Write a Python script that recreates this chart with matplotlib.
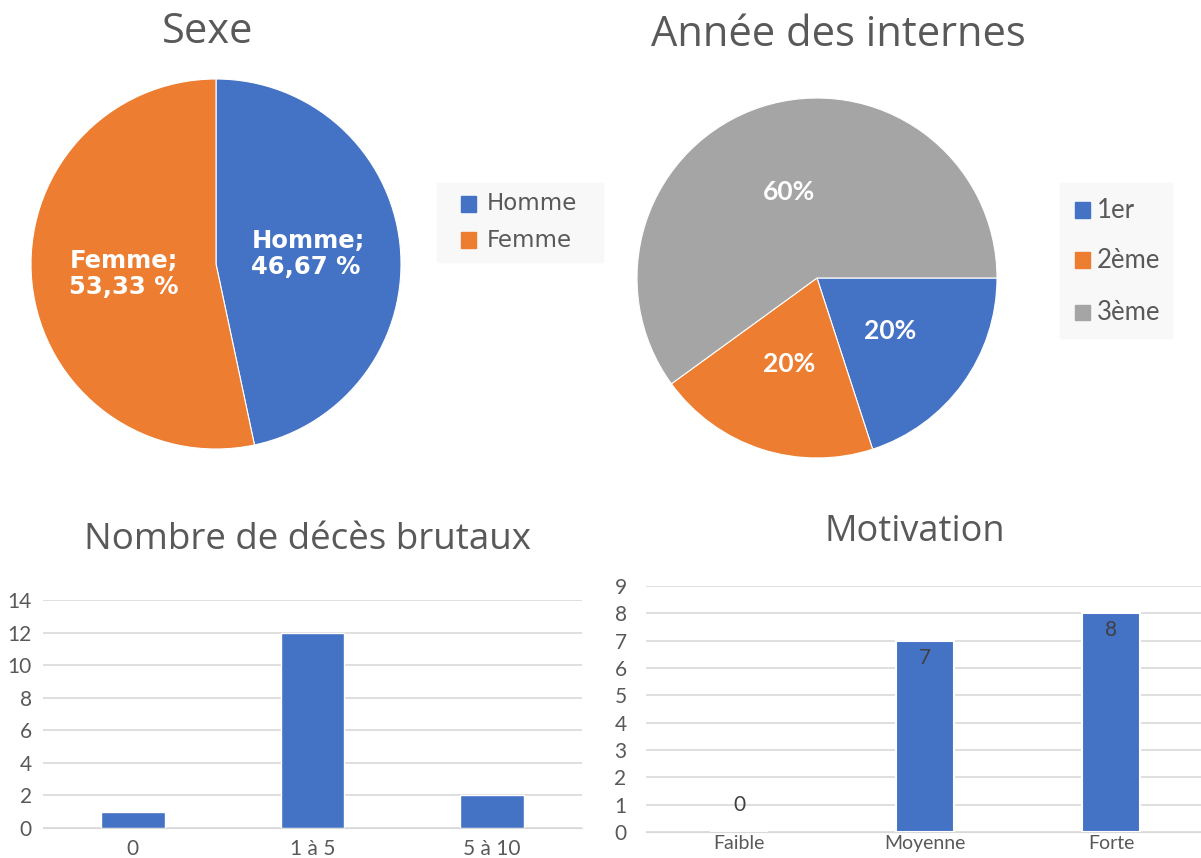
import numpy as np
import matplotlib
matplotlib.use('Agg')
import matplotlib.pyplot as plt
import matplotlib.patches as mpatches

plt.rcParams['font.family'] = ['Lato', 'DejaVu Sans']

# données
sexe_labels = ['Homme', 'Femme']
sexe_valeurs = [7, 8]
annee_labels = ['1er', '2ème', '3ème']
annee_valeurs = [3, 3, 9]
deces_cat = ['0', '1 à 5', '5 à 10']
deces_valeurs = [1, 12, 2]
motiv_cat = ['Faible', 'Moyenne', 'Forte']
motiv_valeurs = [0, 7, 8]

BLEU = '#4472C4'
ORANGE = '#ED7D31'
GRIS = '#A5A5A5'
TEXTE = '#595959'
GRILLE = '#D9D9D9'

W, H = 1201, 858
fig = plt.figure(figsize=(W / 100, H / 100), dpi=100)


def box(x0, y0, x1, y1):
    # coordonnées en pixels (origine en haut à gauche)
    return [x0 / W, 1 - y1 / H, (x1 - x0) / W, (y1 - y0) / H]


def titre(x, y, s, size):
    fig.text(x / W, 1 - y / H, s, ha='center', va='center', fontsize=size,
             color=TEXTE, family=['Open Sans', 'DejaVu Sans'])


def legende(x0, y0, x1, y1, xcarre, xtexte, ycentres, labels, couleurs, **kw):
    # fond gris clair + carrés de couleur + libellés
    fig.patches.append(mpatches.Rectangle((x0 / W, 1 - y1 / H), (x1 - x0) / W, (y1 - y0) / H,
                                          transform=fig.transFigure, color='#F8F8F8', zorder=0))
    c = 15
    for yc, lab, col in zip(ycentres, labels, couleurs):
        fig.patches.append(mpatches.Rectangle((xcarre / W, 1 - (yc + c / 2) / H), c / W, c / H,
                                              transform=fig.transFigure, color=col, zorder=1))
        fig.text(xtexte / W, 1 - yc / H, lab, ha='left', va='center', color=TEXTE, **kw)


# --- Sexe ---
ax1 = fig.add_axes(box(31, 79, 401, 449))
w1, _ = ax1.pie(sexe_valeurs, colors=[BLEU, ORANGE], startangle=90, counterclock=False,
                wedgeprops=dict(edgecolor='white', linewidth=0.8))
ax1.set_xlim(-1, 1)
ax1.set_ylim(-1, 1)
tot = sum(sexe_valeurs)
for w, lab, v in zip(w1, sexe_labels, sexe_valeurs):
    a = np.deg2rad((w.theta1 + w.theta2) / 2)
    txt = f"{lab};\n{100 * v / tot:.2f} %".replace('.', ',')
    ax1.text(0.5 * np.cos(a), 0.5 * np.sin(a), txt, ha='center', va='center',
             multialignment='left', color='white', fontsize=17.5, fontweight='bold',
             family='DejaVu Sans', linespacing=1.1)
titre(208, 32, 'Sexe', 30)
legende(437, 183, 603, 262, 461, 487, [204, 240], sexe_labels, [BLEU, ORANGE],
        fontsize=16.5, family='DejaVu Sans')

# --- Année des internes ---
ax2 = fig.add_axes(box(637, 98, 997, 458))
w2, _ = ax2.pie(annee_valeurs, colors=[BLEU, ORANGE, GRIS], startangle=0, counterclock=False,
                wedgeprops=dict(edgecolor='white', linewidth=0.8))
ax2.set_xlim(-1, 1)
ax2.set_ylim(-1, 1)
tot2 = sum(annee_valeurs)
for w, v in zip(w2, annee_valeurs):
    a = np.deg2rad((w.theta1 + w.theta2) / 2)
    ax2.text(0.5 * np.cos(a), 0.5 * np.sin(a), f"{100 * v / tot2:.0f}%", ha='center', va='center',
             color='white', fontsize=19, fontweight='bold')
titre(838, 35, 'Année des internes', 30)
legende(1060, 183, 1172, 338, 1075, 1097, [210, 260, 312], annee_labels, [BLEU, ORANGE, GRIS],
        fontsize=18.5)


def style_barres(ax, ymax, cats):
    ax.set_ylim(0, ymax)
    ax.set_xlim(-0.5, len(cats) - 0.5)
    for s in ['top', 'right', 'left']:
        ax.spines[s].set_visible(False)
    ax.spines['bottom'].set_color(GRILLE)
    ax.yaxis.grid(True, color=GRILLE, linewidth=1.2)
    ax.set_axisbelow(True)
    ax.tick_params(length=0, labelsize=15, labelcolor=TEXTE, pad=8)
    ax.set_xticks(range(len(cats)))
    ax.set_xticklabels(cats)


# --- Nombre de décès brutaux ---
ax3 = fig.add_axes(box(43, 600, 582, 828))
ax3.bar(range(len(deces_cat)), deces_valeurs, width=0.355, color=BLEU,
        edgecolor='white', linewidth=1)
style_barres(ax3, 14, deces_cat)
ax3.set_yticks(range(0, 15, 2))
titre(307, 540, 'Nombre de décès brutaux', 26.5)

# --- Motivation ---
ax4 = fig.add_axes(box(646, 586, 1204, 832))
ax4.bar(range(len(motiv_cat)), motiv_valeurs, width=0.31, color=BLEU,
        edgecolor='white', linewidth=1.5)
style_barres(ax4, 9, motiv_cat)
ax4.set_yticks(range(0, 10))
ax4.tick_params(axis='y', pad=14)
ax4.tick_params(axis='x', pad=2, labelsize=14)
for i, v in enumerate(motiv_valeurs):
    if v > 0:
        ax4.annotate(str(v), (i, v), xytext=(0, -5), textcoords='offset points',
                     ha='center', va='top', fontsize=15, color='#404040')
    else:
        ax4.annotate(str(v), (i, v), xytext=(0, 12), textcoords='offset points',
                     ha='center', va='bottom', fontsize=15, color='#404040')
titre(915, 532, 'Motivation', 26)

fig.savefig('out.png', dpi=100)
